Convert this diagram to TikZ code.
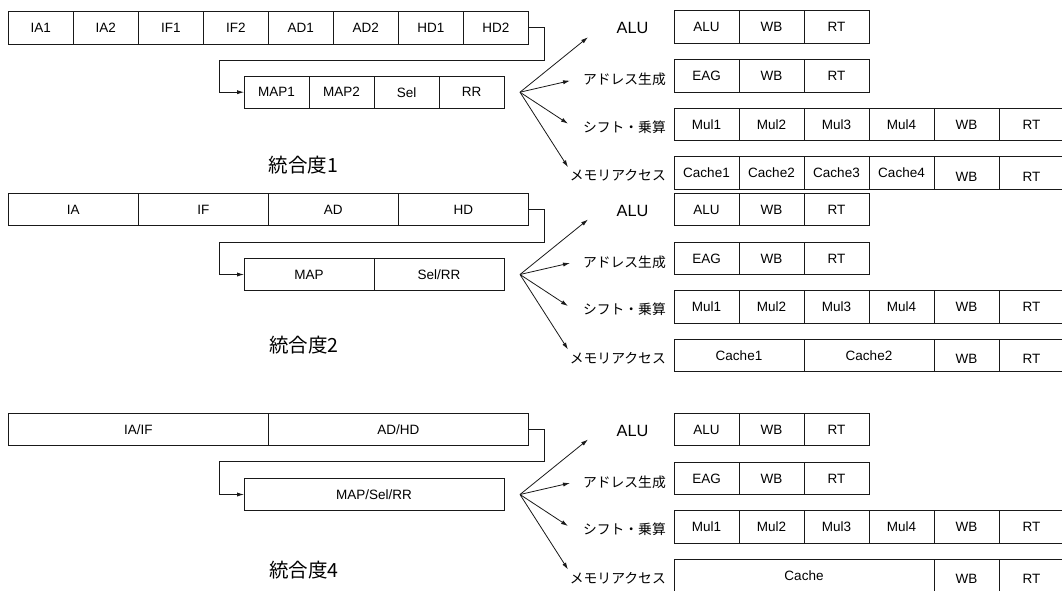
\documentclass[tikz,border=0pt]{standalone}
\usepackage{fontspec}
\setmainfont{Liberation Sans}
\newfontfamily\jp{Noto Sans CJK JP}
\usetikzlibrary{arrows.meta}
\newcommand\lowtext[1]{\raisebox{-3.5pt}[\height][\depth]{#1}}
\begin{document}
\begin{tikzpicture}[x=1pt,y=-1pt,
  cell/.style={draw=black!90, line width=0.8pt, minimum height=32.4pt, inner sep=0pt, outer sep=0pt, anchor=north west, font=\fontsize{13.5}{15}\selectfont},
  flow/.style={draw=black!90, line width=0.8pt, -{Latex[length=7pt,width=4.2pt]}},
  jplabel/.style={font=\jp\fontsize{13.8}{16}\selectfont, anchor=east, inner sep=0pt},
  unitlabel/.style={font=\fontsize{16.3}{18}\selectfont, inner sep=0pt},
  title/.style={font=\jp\fontsize{19.5}{22}\selectfont, inner sep=0pt}]
\useasboundingbox (0,0) rectangle (1062,591);

% ---------- section 1 ----------
\foreach \t [count=\i] in {IA1,IA2,IF1,IF2,AD1,AD2,HD1,HD2}
  \node[cell, minimum width=65pt] (a1-\i) at ({8.3+65*(\i-1)},11.7) {\t};
\foreach \t [count=\i] in {MAP1,MAP2,Sel,RR}
  \node[cell, minimum width=65pt] (m1-\i) at ({244+65*(\i-1)},76) {\t};
\coordinate (r1) at (544.8,60);
\coordinate (l1) at (219,60);
\draw[flow] (a1-8.east) -| (r1) -- (l1) |- (m1-1.west);
\coordinate (f1) at ([xshift=16pt]m1-4.east);
\node[title] (g1) at (303.5,165) {統合度1};

% ---------- section 2 ----------
\foreach \t [count=\i] in {IA,IF,AD,HD}
  \node[cell, minimum width=130pt] (a2-\i) at ({8.3+130*(\i-1)},193.3) {\t};
\foreach \t [count=\i] in {MAP,Sel/RR}
  \node[cell, minimum width=130pt] (m2-\i) at ({244+130*(\i-1)},258.3) {\t};
\coordinate (r2) at (544.8,242);
\coordinate (l2) at (219,242);
\draw[flow] (a2-4.east) -| (r2) -- (l2) |- (m2-1.west);
\coordinate (f2) at ([xshift=16pt]m2-2.east);
\node[title] (g2) at (304,345) {統合度2};

% ---------- section 3 ----------
\foreach \t [count=\i] in {IA/IF,AD/HD}
  \node[cell, minimum width=260pt] (a3-\i) at ({8.3+260*(\i-1)},413.3) {\t};
\node[cell, minimum width=260pt] (m3-1) at (244,478.3) {MAP/Sel/RR};
\coordinate (r3) at (544.8,461.7);
\coordinate (l3) at (219,461.7);
\draw[flow] (a3-2.east) -| (r3) -- (l3) |- (m3-1.west);
\coordinate (f3) at ([xshift=16pt]m3-1.east);
\node[title] (g3) at (304,570) {統合度4};

% ---------- right side (common rows) ----------
\foreach \s/\o in {1/10.7,2/193.3,3/413.3} {
  \foreach \t [count=\i] in {ALU,WB,RT}
    \node[cell, minimum width=65pt] (alu\s-\i) at ({674+65*(\i-1)},\o) {\t};
  \foreach \t [count=\i] in {EAG,WB,RT}
    \node[cell, minimum width=65pt] (eag\s-\i) at ({674+65*(\i-1)},{\o+49}) {\t};
  \foreach \t [count=\i] in {Mul1,Mul2,Mul3,Mul4,WB,RT}
    \node[cell, minimum width=65pt] (mul\s-\i) at ({674+65*(\i-1)},{\o+97.5}) {\t};
  \node[unitlabel] (lalu\s) at (632.5,{\o+17.5}) {ALU};
  \node[jplabel] (lag\s) at (666,{\o+68.7}) {アドレス生成};
  \node[jplabel] (lsh\s) at (666,{\o+116.3}) {シフト・乗算};
  \node[jplabel] (lme\s) at (666,{\o+165}) {メモリアクセス};
  \coordinate (ta\s) at ([shift={(68,-55)}]f\s);
  \coordinate (tb\s) at ([shift={(50,-11.5)}]f\s);
  \coordinate (tc\s) at ([shift={(48,31.5)}]f\s);
  \coordinate (td\s) at ([shift={(48,75)}]f\s);
  \draw[flow] (f\s) -- (ta\s);
  \draw[flow] (f\s) -- (tb\s);
  \draw[flow] (f\s) -- (tc\s);
  \draw[flow] (f\s) -- (td\s);
}

% ---------- memory rows ----------
\foreach \t [count=\i] in {Cache1,Cache2,Cache3,Cache4}
  \node[cell, minimum width=65pt] (c1-\i) at ({674+65*(\i-1)},156.7) {\t};
\node[cell, minimum width=65pt] (c1-5) at (934,156.7) {\lowtext{WB}};
\node[cell, minimum width=65pt] (c1-6) at (999,156.7) {\lowtext{RT}};

\foreach \t [count=\i] in {Cache1,Cache2}
  \node[cell, minimum width=130pt] (c2-\i) at ({674+130*(\i-1)},339.3) {\t};
\node[cell, minimum width=65pt] (c2-3) at (934,339.3) {\lowtext{WB}};
\node[cell, minimum width=65pt] (c2-4) at (999,339.3) {\lowtext{RT}};

\node[cell, minimum width=260pt] (c3-1) at (674,559.3) {Cache};
\node[cell, minimum width=65pt] (c3-2) at (934,559.3) {\lowtext{WB}};
\node[cell, minimum width=65pt] (c3-3) at (999,559.3) {\lowtext{RT}};
\end{tikzpicture}
\end{document}
